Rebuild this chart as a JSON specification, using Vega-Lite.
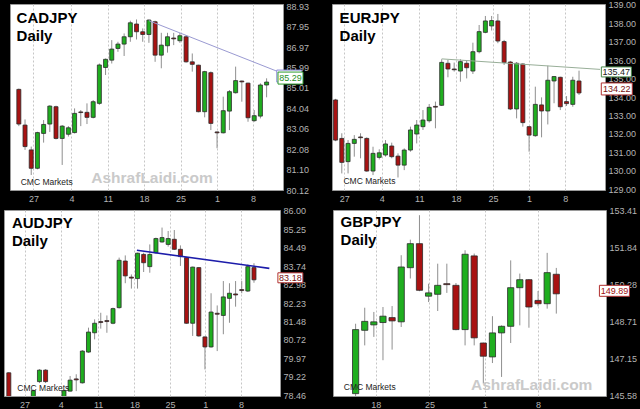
{
"$schema": "https://vega.github.io/schema/vega-lite/v6.json",
"background": "black",
"padding": {"left": 3, "top": 0, "right": 0, "bottom": 0},
"config": {
 "view": {"fill": "white", "stroke": "#9a9a9a", "strokeWidth": 1},
 "axis": {"labelFont": "Liberation Sans", "labelFontSize": 9, "labelColor": "#b4b4b4", "domain": false, "ticks": false, "labelOverlap": false, "labelFlush": false, "tickCount": 20},
 "text": {"font": "Liberation Sans"}
},
"datasets": {
 "notes": [
  {"p":"CADJPY","kind":"title","i":-0.36,"v":88.12,"t":"CADJPY\nDaily"},
  {"p":"CADJPY","kind":"source","i":0.3,"v":80.36,"t":"CMC Markets"},
  {"p":"CADJPY","kind":"mark","i":21.5,"v":80.47,"t":"AshrafLaidi.com"},
  {"p":"EURJPY","kind":"title","i":-0.35,"v":138.03,"t":"EURJPY\nDaily"},
  {"p":"EURJPY","kind":"source","i":0.26,"v":129.26,"t":"CMC Markets"},
  {"p":"AUDJPY","kind":"title","i":0.5,"v":85.31,"t":"AUDJPY\nDaily"},
  {"p":"AUDJPY","kind":"source","i":1.39,"v":78.62,"t":"CMC Markets"},
  {"p":"GBPJPY","kind":"title","i":-1.65,"v":152.71,"t":"GBPJPY\nDaily"},
  {"p":"GBPJPY","kind":"source","i":-1.3,"v":145.8,"t":"CMC Markets"},
  {"p":"GBPJPY","kind":"mark","i":19.3,"v":145.82,"t":"AshrafLaidi.com"}
 ],
 "tags": [
  {"p":"CADJPY","kind":"trend","i":43.66,"v":85.29},
  {"p":"CADJPY","kind":"last","i":43.86,"v":85.29},
  {"p":"EURJPY","kind":"trend","i":43.98,"v":135.47},
  {"p":"EURJPY","kind":"last","i":44.05,"v":134.22},
  {"p":"AUDJPY","kind":"last","i":45.94,"v":83.18},
  {"p":"GBPJPY","kind":"last","i":28.37,"v":149.89}
 ],
 "trend": [
  {"p":"CADJPY","i":21,"v":88.23},{"p":"CADJPY","i":41.84,"v":85.79},
  {"p":"EURJPY","i":16,"v":136.07},{"p":"EURJPY","i":41.36,"v":135.50},
  {"p":"AUDJPY","i":20.9,"v":84.39},{"p":"AUDJPY","i":42.5,"v":83.65}
 ],
 "candles": [
  {"p":"CADJPY","i":0,"o":84.94,"h":84.98,"l":83.18,"c":83.28},
  {"p":"CADJPY","i":1,"o":83.23,"h":83.50,"l":82.04,"c":82.20},
  {"p":"CADJPY","i":2,"o":82.04,"h":82.20,"l":80.84,"c":81.16},
  {"p":"CADJPY","i":3,"o":81.16,"h":82.91,"l":81.11,"c":82.87},
  {"p":"CADJPY","i":4,"o":82.83,"h":83.47,"l":82.39,"c":83.26},
  {"p":"CADJPY","i":5,"o":83.28,"h":84.18,"l":82.90,"c":84.14},
  {"p":"CADJPY","i":6,"o":84.11,"h":84.16,"l":82.54,"c":82.59},
  {"p":"CADJPY","i":7,"o":82.59,"h":83.23,"l":81.32,"c":83.18},
  {"p":"CADJPY","i":8,"o":82.79,"h":83.18,"l":82.68,"c":83.10},
  {"p":"CADJPY","i":9,"o":82.87,"h":84.03,"l":82.83,"c":83.79},
  {"p":"CADJPY","i":10,"o":83.86,"h":83.95,"l":83.18,"c":83.83},
  {"p":"CADJPY","i":11,"o":83.84,"h":84.27,"l":83.28,"c":83.60},
  {"p":"CADJPY","i":12,"o":83.60,"h":84.43,"l":83.55,"c":84.35},
  {"p":"CADJPY","i":13,"o":84.27,"h":86.18,"l":84.20,"c":86.11},
  {"p":"CADJPY","i":14,"o":85.99,"h":86.42,"l":85.63,"c":86.38},
  {"p":"CADJPY","i":15,"o":86.34,"h":87.30,"l":86.18,"c":86.87},
  {"p":"CADJPY","i":16,"o":86.90,"h":87.22,"l":86.74,"c":87.11},
  {"p":"CADJPY","i":17,"o":87.11,"h":87.62,"l":86.54,"c":87.46},
  {"p":"CADJPY","i":18,"o":87.46,"h":88.23,"l":87.22,"c":88.13},
  {"p":"CADJPY","i":19,"o":88.07,"h":88.29,"l":87.33,"c":87.70},
  {"p":"CADJPY","i":20,"o":87.70,"h":87.86,"l":87.22,"c":87.57},
  {"p":"CADJPY","i":21,"o":87.57,"h":88.29,"l":87.17,"c":88.26},
  {"p":"CADJPY","i":22,"o":88.18,"h":88.23,"l":86.26,"c":86.58},
  {"p":"CADJPY","i":23,"o":86.58,"h":87.65,"l":85.95,"c":87.06},
  {"p":"CADJPY","i":24,"o":87.03,"h":87.65,"l":86.70,"c":87.46},
  {"p":"CADJPY","i":25,"o":87.40,"h":87.65,"l":87.06,"c":87.36},
  {"p":"CADJPY","i":26,"o":87.27,"h":87.65,"l":87.17,"c":87.51},
  {"p":"CADJPY","i":27,"o":87.46,"h":87.54,"l":86.22,"c":86.26},
  {"p":"CADJPY","i":28,"o":86.26,"h":86.66,"l":85.79,"c":86.14},
  {"p":"CADJPY","i":29,"o":86.10,"h":86.12,"l":83.84,"c":83.87},
  {"p":"CADJPY","i":30,"o":83.87,"h":85.83,"l":83.60,"c":85.79},
  {"p":"CADJPY","i":31,"o":85.74,"h":85.80,"l":82.99,"c":83.31},
  {"p":"CADJPY","i":32,"o":82.90,"h":82.93,"l":82.12,"c":82.86},
  {"p":"CADJPY","i":33,"o":82.86,"h":84.59,"l":82.83,"c":83.92},
  {"p":"CADJPY","i":34,"o":83.90,"h":84.91,"l":82.99,"c":84.83},
  {"p":"CADJPY","i":35,"o":84.78,"h":86.03,"l":84.74,"c":85.36},
  {"p":"CADJPY","i":36,"o":85.34,"h":85.36,"l":84.35,"c":85.30},
  {"p":"CADJPY","i":37,"o":85.24,"h":85.26,"l":83.39,"c":83.58},
  {"p":"CADJPY","i":38,"o":83.44,"h":83.95,"l":83.39,"c":83.68},
  {"p":"CADJPY","i":39,"o":83.66,"h":85.23,"l":83.55,"c":85.15},
  {"p":"CADJPY","i":40,"o":85.15,"h":85.47,"l":84.56,"c":85.29},
  {"p":"EURJPY","i":-1,"o":133.84,"h":133.90,"l":131.60,"c":131.66},
  {"p":"EURJPY","i":0,"o":131.75,"h":132.03,"l":129.85,"c":130.45},
  {"p":"EURJPY","i":1,"o":130.49,"h":131.66,"l":129.85,"c":131.48},
  {"p":"EURJPY","i":2,"o":131.48,"h":131.93,"l":130.76,"c":131.70},
  {"p":"EURJPY","i":3,"o":131.83,"h":132.03,"l":130.67,"c":131.79},
  {"p":"EURJPY","i":4,"o":131.75,"h":131.81,"l":129.94,"c":129.98},
  {"p":"EURJPY","i":5,"o":129.98,"h":131.30,"l":129.76,"c":130.94},
  {"p":"EURJPY","i":6,"o":130.72,"h":131.16,"l":130.61,"c":130.97},
  {"p":"EURJPY","i":7,"o":130.85,"h":131.66,"l":130.76,"c":131.45},
  {"p":"EURJPY","i":8,"o":131.34,"h":131.52,"l":130.67,"c":130.76},
  {"p":"EURJPY","i":9,"o":130.79,"h":130.94,"l":129.63,"c":130.30},
  {"p":"EURJPY","i":10,"o":130.30,"h":131.21,"l":130.03,"c":131.12},
  {"p":"EURJPY","i":11,"o":131.12,"h":132.39,"l":131.03,"c":132.21},
  {"p":"EURJPY","i":12,"o":131.99,"h":132.75,"l":131.48,"c":132.48},
  {"p":"EURJPY","i":13,"o":132.39,"h":133.29,"l":132.21,"c":132.75},
  {"p":"EURJPY","i":14,"o":132.71,"h":133.62,"l":132.61,"c":133.44},
  {"p":"EURJPY","i":15,"o":133.49,"h":133.75,"l":132.30,"c":133.45},
  {"p":"EURJPY","i":16,"o":133.55,"h":136.05,"l":133.51,"c":135.88},
  {"p":"EURJPY","i":17,"o":135.83,"h":136.01,"l":135.07,"c":135.52},
  {"p":"EURJPY","i":18,"o":135.52,"h":135.87,"l":135.38,"c":135.48},
  {"p":"EURJPY","i":19,"o":135.41,"h":136.05,"l":134.83,"c":135.92},
  {"p":"EURJPY","i":20,"o":135.83,"h":135.97,"l":135.01,"c":135.59},
  {"p":"EURJPY","i":21,"o":135.41,"h":136.95,"l":135.25,"c":136.46},
  {"p":"EURJPY","i":22,"o":136.46,"h":137.91,"l":136.37,"c":137.55},
  {"p":"EURJPY","i":23,"o":137.51,"h":138.40,"l":137.46,"c":138.13},
  {"p":"EURJPY","i":24,"o":137.86,"h":138.40,"l":137.61,"c":138.15},
  {"p":"EURJPY","i":25,"o":138.13,"h":138.51,"l":136.92,"c":137.04},
  {"p":"EURJPY","i":26,"o":137.01,"h":137.10,"l":135.74,"c":135.87},
  {"p":"EURJPY","i":27,"o":135.90,"h":135.96,"l":133.29,"c":133.35},
  {"p":"EURJPY","i":28,"o":133.35,"h":135.90,"l":132.84,"c":135.83},
  {"p":"EURJPY","i":29,"o":135.79,"h":135.83,"l":132.39,"c":132.61},
  {"p":"EURJPY","i":30,"o":132.39,"h":132.42,"l":131.03,"c":131.93},
  {"p":"EURJPY","i":31,"o":131.90,"h":134.56,"l":131.84,"c":133.60},
  {"p":"EURJPY","i":32,"o":133.57,"h":133.98,"l":131.81,"c":133.24},
  {"p":"EURJPY","i":33,"o":133.24,"h":135.70,"l":132.51,"c":134.91},
  {"p":"EURJPY","i":34,"o":134.87,"h":135.14,"l":133.66,"c":135.11},
  {"p":"EURJPY","i":35,"o":135.07,"h":135.10,"l":133.29,"c":133.47},
  {"p":"EURJPY","i":36,"o":133.75,"h":134.05,"l":133.51,"c":133.64},
  {"p":"EURJPY","i":37,"o":133.60,"h":135.10,"l":133.47,"c":134.91},
  {"p":"EURJPY","i":38,"o":134.87,"h":135.43,"l":134.11,"c":134.22},
  {"p":"AUDJPY","i":0,"o":79.37,"h":79.40,"l":78.20,"c":78.30},
  {"p":"AUDJPY","i":4,"o":78.20,"h":78.68,"l":78.10,"c":78.64},
  {"p":"AUDJPY","i":5,"o":79.01,"h":79.52,"l":78.95,"c":79.48},
  {"p":"AUDJPY","i":6,"o":79.48,"h":79.52,"l":78.95,"c":79.01},
  {"p":"AUDJPY","i":9,"o":78.30,"h":78.68,"l":78.20,"c":78.64},
  {"p":"AUDJPY","i":10,"o":78.62,"h":79.24,"l":78.60,"c":79.07},
  {"p":"AUDJPY","i":11,"o":79.12,"h":79.31,"l":78.62,"c":79.08},
  {"p":"AUDJPY","i":12,"o":78.96,"h":80.30,"l":78.93,"c":80.26},
  {"p":"AUDJPY","i":13,"o":80.22,"h":81.22,"l":80.19,"c":81.04},
  {"p":"AUDJPY","i":14,"o":81.01,"h":81.56,"l":80.74,"c":81.40},
  {"p":"AUDJPY","i":15,"o":81.47,"h":81.83,"l":81.18,"c":81.43},
  {"p":"AUDJPY","i":16,"o":81.51,"h":81.72,"l":81.01,"c":81.47},
  {"p":"AUDJPY","i":17,"o":81.40,"h":82.04,"l":81.36,"c":82.00},
  {"p":"AUDJPY","i":18,"o":82.04,"h":84.09,"l":82.00,"c":83.98},
  {"p":"AUDJPY","i":19,"o":83.95,"h":84.18,"l":83.04,"c":83.34},
  {"p":"AUDJPY","i":20,"o":83.29,"h":83.40,"l":82.82,"c":83.25},
  {"p":"AUDJPY","i":21,"o":83.23,"h":84.29,"l":82.82,"c":84.27},
  {"p":"AUDJPY","i":22,"o":84.22,"h":84.29,"l":83.50,"c":83.88},
  {"p":"AUDJPY","i":23,"o":83.72,"h":84.63,"l":83.47,"c":84.22},
  {"p":"AUDJPY","i":24,"o":84.29,"h":84.91,"l":84.25,"c":84.87},
  {"p":"AUDJPY","i":25,"o":84.73,"h":85.32,"l":84.70,"c":84.91},
  {"p":"AUDJPY","i":26,"o":84.63,"h":85.18,"l":84.54,"c":84.87},
  {"p":"AUDJPY","i":27,"o":84.84,"h":85.22,"l":84.40,"c":84.43},
  {"p":"AUDJPY","i":28,"o":84.43,"h":84.59,"l":83.75,"c":84.13},
  {"p":"AUDJPY","i":29,"o":84.09,"h":84.12,"l":81.38,"c":81.40},
  {"p":"AUDJPY","i":30,"o":81.40,"h":83.72,"l":80.88,"c":83.70},
  {"p":"AUDJPY","i":31,"o":83.68,"h":83.70,"l":80.85,"c":80.88},
  {"p":"AUDJPY","i":32,"o":80.84,"h":80.86,"l":79.51,"c":80.43},
  {"p":"AUDJPY","i":33,"o":80.43,"h":82.63,"l":80.40,"c":81.86},
  {"p":"AUDJPY","i":34,"o":81.81,"h":82.13,"l":80.26,"c":81.77},
  {"p":"AUDJPY","i":35,"o":81.72,"h":83.13,"l":80.95,"c":82.48},
  {"p":"AUDJPY","i":36,"o":82.42,"h":83.04,"l":81.42,"c":82.63},
  {"p":"AUDJPY","i":37,"o":82.60,"h":83.13,"l":82.08,"c":82.56},
  {"p":"AUDJPY","i":38,"o":82.78,"h":83.13,"l":82.63,"c":82.74},
  {"p":"AUDJPY","i":39,"o":82.72,"h":83.81,"l":82.68,"c":83.72},
  {"p":"AUDJPY","i":40,"o":83.68,"h":83.86,"l":83.06,"c":83.18},
  {"p":"GBPJPY","i":0,"o":145.65,"h":148.62,"l":145.50,"c":148.37},
  {"p":"GBPJPY","i":1,"o":148.34,"h":149.30,"l":147.70,"c":148.72},
  {"p":"GBPJPY","i":2,"o":148.57,"h":149.12,"l":148.06,"c":148.70},
  {"p":"GBPJPY","i":3,"o":148.67,"h":149.33,"l":147.07,"c":148.94},
  {"p":"GBPJPY","i":4,"o":148.88,"h":149.37,"l":147.52,"c":148.74},
  {"p":"GBPJPY","i":5,"o":148.70,"h":151.53,"l":148.48,"c":151.03},
  {"p":"GBPJPY","i":6,"o":151.00,"h":152.19,"l":150.54,"c":152.02},
  {"p":"GBPJPY","i":7,"o":152.02,"h":153.23,"l":150.00,"c":150.04},
  {"p":"GBPJPY","i":8,"o":149.79,"h":150.32,"l":149.54,"c":149.93},
  {"p":"GBPJPY","i":9,"o":149.87,"h":151.17,"l":149.16,"c":150.25},
  {"p":"GBPJPY","i":10,"o":150.32,"h":151.17,"l":149.93,"c":150.28},
  {"p":"GBPJPY","i":11,"o":150.25,"h":150.35,"l":148.34,"c":148.37},
  {"p":"GBPJPY","i":12,"o":148.37,"h":151.74,"l":147.70,"c":151.57},
  {"p":"GBPJPY","i":13,"o":151.50,"h":151.60,"l":147.70,"c":148.02},
  {"p":"GBPJPY","i":14,"o":147.80,"h":147.82,"l":146.08,"c":147.24},
  {"p":"GBPJPY","i":15,"o":147.21,"h":148.94,"l":146.95,"c":148.23},
  {"p":"GBPJPY","i":16,"o":148.23,"h":148.55,"l":146.36,"c":148.51},
  {"p":"GBPJPY","i":17,"o":148.51,"h":151.31,"l":147.80,"c":150.15},
  {"p":"GBPJPY","i":18,"o":150.15,"h":150.75,"l":148.55,"c":150.49},
  {"p":"GBPJPY","i":19,"o":150.49,"h":150.52,"l":148.45,"c":149.33},
  {"p":"GBPJPY","i":20,"o":149.61,"h":150.01,"l":149.36,"c":149.47},
  {"p":"GBPJPY","i":21,"o":149.47,"h":151.63,"l":149.26,"c":150.79},
  {"p":"GBPJPY","i":22,"o":150.72,"h":150.99,"l":149.05,"c":149.89}
 ]
},
"spacing": 0,
"vconcat": [
 {"spacing": 3, "hconcat": [
  {"width": 1, "height": 186, "view": {"stroke": "transparent", "fill": "transparent"}, "data": {"values": []}, "mark": {"type": "point", "size": 0, "opacity": 0}},
  {"width": 273, "height": 186,
   "encoding": {"x": {"field": "i", "type": "quantitative", "scale": {"domain": [-0.62, 41.84], "nice": false, "zero": false},
     "axis": {"title": null, "values": [2.36, 8.5, 14.36, 20.2, 26.1, 32.0, 37.8], "labelExpr": "datum.value < 5 ? '27' : datum.value < 11 ? '4' : datum.value < 17 ? '11' : datum.value < 23 ? '18' : datum.value < 29 ? '25' : datum.value < 35 ? '1' : '8'", "grid": true, "gridDash": [2, 2], "gridColor": "#c6c6c6", "labelPadding": 4, "tickCount": 20, "minExtent": 15, "maxExtent": 15}}},
   "layer": [
    {"data": {"name": "candles"}, "transform": [{"filter": "datum.p == 'CADJPY'"}],
     "mark": {"type": "rule", "color": "#8f8f8f", "clip": true},
     "encoding": {"y": {"field": "l", "type": "quantitative", "scale": {"domain": [80.12, 89.03], "nice": false, "zero": false},
       "axis": {"title": null, "orient": "right", "values": [80.12, 81.1, 82.08, 83.06, 84.04, 85.01, 85.99, 86.97, 87.95, 88.93], "format": ".2f", "grid": false, "labelPadding": 3, "tickCount": 20, "labelOverlap": false, "minExtent": 44, "maxExtent": 44}},
      "y2": {"field": "h"}}},
    {"data": {"name": "candles"}, "transform": [{"filter": "datum.p == 'CADJPY'"}],
     "mark": {"type": "bar", "width": 4, "clip": true, "stroke": "#2b2b2b", "strokeWidth": 0.8},
     "encoding": {"y": {"field": "o", "type": "quantitative"}, "y2": {"field": "c"},
      "color": {"condition": {"test": "datum.c >= datum.o", "value": "#1fae1f"}, "value": "#a81212"}}},
    {"data": {"name": "trend"}, "transform": [{"filter": "datum.p == 'CADJPY'"}],
     "mark": {"type": "line", "color": "#9a9ad2", "strokeWidth": 1, "clip": true},
     "encoding": {"y": {"field": "v", "type": "quantitative"}}},
    {"data": {"name": "tags"}, "transform": [{"filter": "datum.p == 'CADJPY' && datum.kind == 'trend'"}],
     "mark": {"type": "point", "shape": "M-1,-0.48L1,-0.48L1,0.48L-1,0.48Z", "size": 625, "filled": true, "fill": "white", "stroke": "#8a8ad8", "strokeWidth": 1, "opacity": 1, "yOffset": -6},
     "encoding": {"y": {"field": "v", "type": "quantitative"}}},
    {"data": {"name": "tags"}, "transform": [{"filter": "datum.p == 'CADJPY' && datum.kind == 'last'"}],
     "mark": {"type": "point", "shape": "M-1,-0.48L1,-0.48L1,0.48L-1,0.48Z", "size": 625, "filled": true, "fill": "white", "stroke": "#2f9a2f", "strokeWidth": 1, "opacity": 1, "yOffset": -4},
     "encoding": {"y": {"field": "v", "type": "quantitative"}}},
    {"data": {"name": "tags"}, "transform": [{"filter": "datum.p == 'CADJPY' && datum.kind == 'last'"}],
     "mark": {"type": "text", "align": "center", "baseline": "middle", "fontSize": 9, "color": "#1f8f1f", "yOffset": -4},
     "encoding": {"y": {"field": "v", "type": "quantitative"}, "text": {"field": "v", "format": ".2f"}}},
    {"data": {"name": "notes"}, "transform": [{"filter": "datum.p == 'CADJPY' && datum.kind == 'title'"}],
     "mark": {"type": "text", "align": "left", "baseline": "alphabetic", "fontSize": 15, "fontWeight": "bold", "color": "black", "lineBreak": "\n", "lineHeight": 18},
     "encoding": {"y": {"field": "v", "type": "quantitative"}, "text": {"field": "t"}}},
    {"data": {"name": "notes"}, "transform": [{"filter": "datum.p == 'CADJPY' && datum.kind == 'source'"}],
     "mark": {"type": "text", "align": "left", "baseline": "alphabetic", "fontSize": 8.5, "color": "#222222"},
     "encoding": {"y": {"field": "v", "type": "quantitative"}, "text": {"field": "t"}}},
    {"data": {"name": "notes"}, "transform": [{"filter": "datum.p == 'CADJPY' && datum.kind == 'mark'"}],
     "mark": {"type": "text", "align": "center", "baseline": "alphabetic", "fontSize": 15.5, "fontWeight": "bold", "color": "#cacaca"},
     "encoding": {"y": {"field": "v", "type": "quantitative"}, "text": {"field": "t"}}}
   ]},
  {"width": 273, "height": 186,
   "encoding": {"x": {"field": "i", "type": "quantitative", "scale": {"domain": [-0.77, 41.36], "nice": false, "zero": false},
     "axis": {"title": null, "values": [0.39, 6.4, 12.4, 18.3, 24.2, 30.0, 35.8], "labelExpr": "datum.value < 3 ? '27' : datum.value < 9 ? '4' : datum.value < 15 ? '11' : datum.value < 21 ? '18' : datum.value < 27 ? '25' : datum.value < 33 ? '1' : '8'", "grid": true, "gridDash": [2, 2], "gridColor": "#c6c6c6", "labelPadding": 4, "tickCount": 20, "minExtent": 15, "maxExtent": 15}}},
   "layer": [
    {"data": {"name": "candles"}, "transform": [{"filter": "datum.p == 'EURJPY'"}],
     "mark": {"type": "rule", "color": "#8f8f8f", "clip": true},
     "encoding": {"y": {"field": "l", "type": "quantitative", "scale": {"domain": [128.95, 139.05], "nice": false, "zero": false},
       "axis": {"title": null, "orient": "right", "values": [129, 130, 131, 132, 133, 134, 135, 136, 137, 138, 139], "format": ".2f", "grid": false, "labelPadding": 3, "tickCount": 20, "labelOverlap": false, "minExtent": 41, "maxExtent": 41}},
      "y2": {"field": "h"}}},
    {"data": {"name": "candles"}, "transform": [{"filter": "datum.p == 'EURJPY'"}],
     "mark": {"type": "bar", "width": 4, "clip": true, "stroke": "#2b2b2b", "strokeWidth": 0.8},
     "encoding": {"y": {"field": "o", "type": "quantitative"}, "y2": {"field": "c"},
      "color": {"condition": {"test": "datum.c >= datum.o", "value": "#1fae1f"}, "value": "#a81212"}}},
    {"data": {"name": "trend"}, "transform": [{"filter": "datum.p == 'EURJPY'"}],
     "mark": {"type": "line", "color": "#98ae98", "strokeWidth": 1, "clip": true},
     "encoding": {"y": {"field": "v", "type": "quantitative"}}},
    {"data": {"name": "tags"}, "transform": [{"filter": "datum.p == 'EURJPY' && datum.kind == 'trend'"}],
     "mark": {"type": "point", "shape": "M-1,-0.333L1,-0.333L1,0.333L-1,0.333Z", "size": 900, "filled": true, "fill": "white", "stroke": "#4a8a4a", "strokeWidth": 1, "opacity": 1, "yOffset": 2},
     "encoding": {"y": {"field": "v", "type": "quantitative"}}},
    {"data": {"name": "tags"}, "transform": [{"filter": "datum.p == 'EURJPY' && datum.kind == 'trend'"}],
     "mark": {"type": "text", "align": "center", "baseline": "middle", "fontSize": 9, "color": "#222222", "yOffset": 2},
     "encoding": {"y": {"field": "v", "type": "quantitative"}, "text": {"field": "v", "format": ".2f"}}},
    {"data": {"name": "tags"}, "transform": [{"filter": "datum.p == 'EURJPY' && datum.kind == 'last'"}],
     "mark": {"type": "point", "shape": "M-1,-0.387L1,-0.387L1,0.387L-1,0.387Z", "size": 961, "filled": true, "fill": "white", "stroke": "#b03030", "strokeWidth": 1, "opacity": 1, "yOffset": -4},
     "encoding": {"y": {"field": "v", "type": "quantitative"}}},
    {"data": {"name": "tags"}, "transform": [{"filter": "datum.p == 'EURJPY' && datum.kind == 'last'"}],
     "mark": {"type": "text", "align": "center", "baseline": "middle", "fontSize": 9, "color": "#7a1010", "yOffset": -4},
     "encoding": {"y": {"field": "v", "type": "quantitative"}, "text": {"field": "v", "format": ".2f"}}},
    {"data": {"name": "notes"}, "transform": [{"filter": "datum.p == 'EURJPY' && datum.kind == 'title'"}],
     "mark": {"type": "text", "align": "left", "baseline": "alphabetic", "fontSize": 15, "fontWeight": "bold", "color": "black", "lineBreak": "\n", "lineHeight": 18},
     "encoding": {"y": {"field": "v", "type": "quantitative"}, "text": {"field": "t"}}},
    {"data": {"name": "notes"}, "transform": [{"filter": "datum.p == 'EURJPY' && datum.kind == 'source'"}],
     "mark": {"type": "text", "align": "left", "baseline": "alphabetic", "fontSize": 8.5, "color": "#222222"},
     "encoding": {"y": {"field": "v", "type": "quantitative"}, "text": {"field": "t"}}}
   ]}
 ]},
 {"spacing": 11, "hconcat": [
  {"width": 276, "height": 186,
   "encoding": {"x": {"field": "i", "type": "quantitative", "scale": {"domain": [0.03, 43.43], "nice": false, "zero": false},
     "axis": {"title": null, "values": [2.57, 8.47, 14.57, 20.5, 26.3, 32.05, 37.9], "labelExpr": "datum.value < 5 ? '27' : datum.value < 11 ? '4' : datum.value < 17 ? '11' : datum.value < 23 ? '18' : datum.value < 29 ? '25' : datum.value < 35 ? '1' : '8'", "grid": true, "gridDash": [2, 2], "gridColor": "#c6c6c6", "labelPadding": 4, "tickCount": 20, "minExtent": 15, "maxExtent": 15}}},
   "layer": [
    {"data": {"name": "candles"}, "transform": [{"filter": "datum.p == 'AUDJPY'"}],
     "mark": {"type": "rule", "color": "#8f8f8f", "clip": true},
     "encoding": {"y": {"field": "l", "type": "quantitative", "scale": {"domain": [78.42, 86.04], "nice": false, "zero": false},
       "axis": {"title": null, "orient": "right", "values": [78.46, 79.22, 79.97, 80.72, 81.48, 82.23, 82.98, 83.74, 84.49, 85.25, 86.0], "format": ".2f", "grid": false, "labelPadding": 3, "tickCount": 20, "labelOverlap": false, "minExtent": 40, "maxExtent": 40}},
      "y2": {"field": "h"}}},
    {"data": {"name": "candles"}, "transform": [{"filter": "datum.p == 'AUDJPY'"}],
     "mark": {"type": "bar", "width": 4, "clip": true, "stroke": "#2b2b2b", "strokeWidth": 0.8},
     "encoding": {"y": {"field": "o", "type": "quantitative"}, "y2": {"field": "c"},
      "color": {"condition": {"test": "datum.c >= datum.o", "value": "#1fae1f"}, "value": "#a81212"}}},
    {"data": {"name": "trend"}, "transform": [{"filter": "datum.p == 'AUDJPY'"}],
     "mark": {"type": "line", "color": "#1c1caa", "strokeWidth": 1.6, "clip": true},
     "encoding": {"y": {"field": "v", "type": "quantitative"}}},
    {"data": {"name": "tags"}, "transform": [{"filter": "datum.p == 'AUDJPY'"}],
     "mark": {"type": "point", "shape": "M-1,-0.4L1,-0.4L1,0.4L-1,0.4Z", "size": 625, "filled": true, "fill": "white", "stroke": "#b03030", "strokeWidth": 1, "opacity": 1, "yOffset": -2},
     "encoding": {"y": {"field": "v", "type": "quantitative"}}},
    {"data": {"name": "tags"}, "transform": [{"filter": "datum.p == 'AUDJPY'"}],
     "mark": {"type": "text", "align": "center", "baseline": "middle", "fontSize": 9, "color": "#7a1010", "yOffset": -2},
     "encoding": {"y": {"field": "v", "type": "quantitative"}, "text": {"field": "v", "format": ".2f"}}},
    {"data": {"name": "notes"}, "transform": [{"filter": "datum.p == 'AUDJPY' && datum.kind == 'title'"}],
     "mark": {"type": "text", "align": "left", "baseline": "alphabetic", "fontSize": 15, "fontWeight": "bold", "color": "black", "lineBreak": "\n", "lineHeight": 18},
     "encoding": {"y": {"field": "v", "type": "quantitative"}, "text": {"field": "t"}}},
    {"data": {"name": "notes"}, "transform": [{"filter": "datum.p == 'AUDJPY' && datum.kind == 'source'"}],
     "mark": {"type": "text", "align": "left", "baseline": "alphabetic", "fontSize": 8.5, "color": "#222222"},
     "encoding": {"y": {"field": "v", "type": "quantitative"}, "text": {"field": "t"}}}
   ]},
  {"width": 273, "height": 186,
   "encoding": {"x": {"field": "i", "type": "quantitative", "scale": {"domain": [-1.93, 26.9], "nice": false, "zero": false},
     "axis": {"title": null, "values": [2.22, 8.1, 14.15, 20.0], "labelExpr": "datum.value < 5 ? '18' : datum.value < 11 ? '25' : datum.value < 17 ? '1' : '8'", "grid": true, "gridDash": [2, 2], "gridColor": "#c6c6c6", "labelPadding": 4, "tickCount": 20, "minExtent": 15, "maxExtent": 15}}},
   "layer": [
    {"data": {"name": "candles"}, "transform": [{"filter": "datum.p == 'GBPJPY'"}],
     "mark": {"type": "rule", "color": "#8f8f8f", "clip": true},
     "encoding": {"y": {"field": "l", "type": "quantitative", "scale": {"domain": [145.55, 153.45], "nice": false, "zero": false},
       "axis": {"title": null, "orient": "right", "values": [145.58, 147.15, 148.71, 150.28, 151.84, 153.41], "format": ".2f", "grid": false, "labelPadding": 3, "tickCount": 20, "labelOverlap": false, "minExtent": 41, "maxExtent": 41}},
      "y2": {"field": "h"}}},
    {"data": {"name": "candles"}, "transform": [{"filter": "datum.p == 'GBPJPY'"}],
     "mark": {"type": "bar", "width": 6.2, "clip": true, "stroke": "#2b2b2b", "strokeWidth": 0.8},
     "encoding": {"y": {"field": "o", "type": "quantitative"}, "y2": {"field": "c"},
      "color": {"condition": {"test": "datum.c >= datum.o", "value": "#1fae1f"}, "value": "#a81212"}}},
    {"data": {"name": "tags"}, "transform": [{"filter": "datum.p == 'GBPJPY'"}],
     "mark": {"type": "point", "shape": "M-1,-0.367L1,-0.367L1,0.367L-1,0.367Z", "size": 900, "filled": true, "fill": "white", "stroke": "#b03030", "strokeWidth": 1, "opacity": 1, "yOffset": -3},
     "encoding": {"y": {"field": "v", "type": "quantitative"}}},
    {"data": {"name": "tags"}, "transform": [{"filter": "datum.p == 'GBPJPY'"}],
     "mark": {"type": "text", "align": "center", "baseline": "middle", "fontSize": 9, "color": "#a01010", "yOffset": -3},
     "encoding": {"y": {"field": "v", "type": "quantitative"}, "text": {"field": "v", "format": ".2f"}}},
    {"data": {"name": "notes"}, "transform": [{"filter": "datum.p == 'GBPJPY' && datum.kind == 'title'"}],
     "mark": {"type": "text", "align": "left", "baseline": "alphabetic", "fontSize": 15, "fontWeight": "bold", "color": "black", "lineBreak": "\n", "lineHeight": 18},
     "encoding": {"y": {"field": "v", "type": "quantitative"}, "text": {"field": "t"}}},
    {"data": {"name": "notes"}, "transform": [{"filter": "datum.p == 'GBPJPY' && datum.kind == 'source'"}],
     "mark": {"type": "text", "align": "left", "baseline": "alphabetic", "fontSize": 8.5, "color": "#222222"},
     "encoding": {"y": {"field": "v", "type": "quantitative"}, "text": {"field": "t"}}},
    {"data": {"name": "notes"}, "transform": [{"filter": "datum.p == 'GBPJPY' && datum.kind == 'mark'"}],
     "mark": {"type": "text", "align": "center", "baseline": "alphabetic", "fontSize": 15.5, "fontWeight": "bold", "color": "#cacaca"},
     "encoding": {"y": {"field": "v", "type": "quantitative"}, "text": {"field": "t"}}}
   ]}
 ]}
]
}
